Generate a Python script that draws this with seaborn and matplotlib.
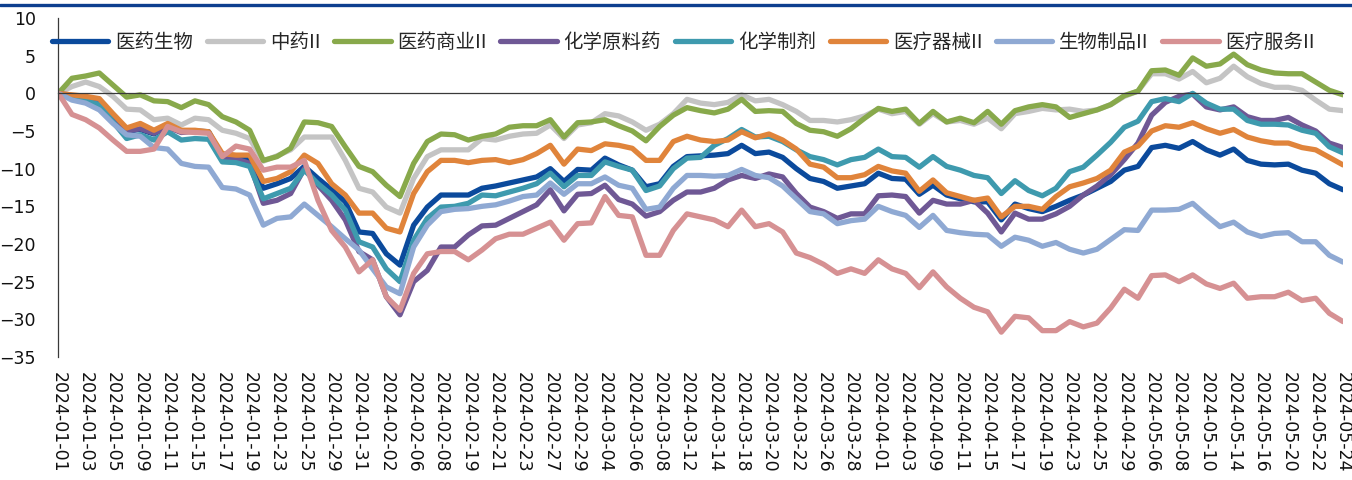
import numpy as np
import pandas as pd
import matplotlib
matplotlib.use('Agg')
import matplotlib.pyplot as plt
from matplotlib.lines import Line2D
import seaborn as sns

# ---------------- data (cumulative change, %) ----------------
dates = [
    '2024-01-01', '2024-01-02', '2024-01-03', '2024-01-04', '2024-01-05', '2024-01-08', '2024-01-09',
    '2024-01-10', '2024-01-11', '2024-01-12', '2024-01-15', '2024-01-16', '2024-01-17', '2024-01-18',
    '2024-01-19', '2024-01-22', '2024-01-23', '2024-01-24', '2024-01-25', '2024-01-26', '2024-01-29',
    '2024-01-30', '2024-01-31',
    '2024-02-01', '2024-02-02', '2024-02-05', '2024-02-06', '2024-02-07', '2024-02-08', '2024-02-09',
    '2024-02-19', '2024-02-20', '2024-02-21', '2024-02-22', '2024-02-23', '2024-02-26', '2024-02-27',
    '2024-02-28', '2024-02-29',
    '2024-03-01', '2024-03-04', '2024-03-05', '2024-03-06', '2024-03-07', '2024-03-08', '2024-03-11',
    '2024-03-12', '2024-03-13', '2024-03-14', '2024-03-15', '2024-03-18', '2024-03-19', '2024-03-20',
    '2024-03-21', '2024-03-22', '2024-03-25', '2024-03-26', '2024-03-27', '2024-03-28', '2024-03-29',
    '2024-04-01', '2024-04-02', '2024-04-03', '2024-04-08', '2024-04-09', '2024-04-10', '2024-04-11',
    '2024-04-12', '2024-04-15', '2024-04-16', '2024-04-17', '2024-04-18', '2024-04-19', '2024-04-22',
    '2024-04-23', '2024-04-24', '2024-04-25', '2024-04-26', '2024-04-29', '2024-04-30',
    '2024-05-06', '2024-05-07', '2024-05-08', '2024-05-09', '2024-05-10', '2024-05-13', '2024-05-14',
    '2024-05-15', '2024-05-16', '2024-05-17', '2024-05-20', '2024-05-21', '2024-05-22', '2024-05-23',
    '2024-05-24',
]

yiyao_shengwu = [
    0, -0.4, -0.8, -1.2, -3.3, -5.0, -4.8, -5.4, -4.4, -5.1,
    -5.0, -5.1, -8.4, -8.7, -8.8, -12.6, -12.0, -11.3, -9.7, -11.3,
    -12.8, -14.4, -18.4, -18.6, -21.3, -22.8, -17.5, -15.1, -13.5, -13.5,
    -13.5, -12.6, -12.3, -11.9, -11.5, -11.1, -10.0, -11.7, -10.1, -10.2,
    -8.6, -9.5, -10.2, -12.4, -12.0, -9.7, -8.4, -8.3, -8.2, -8.0,
    -6.9, -8.0, -7.8, -8.5, -10.0, -11.3, -11.7, -12.6, -12.3, -12.0,
    -10.6, -11.3, -11.4, -13.4, -12.2, -13.5, -14.0, -14.4, -14.4, -16.8,
    -14.7, -15.3, -15.7, -15.0, -14.2, -13.5, -12.6, -11.7, -10.2, -9.7,
    -7.2, -6.9, -7.3, -6.4, -7.5, -8.2, -7.4, -8.9, -9.4, -9.5,
    -9.4, -10.2, -10.6, -12.0, -12.8]

zhongyao = [
    0, 0.9, 1.5, 0.9, -0.4, -2.1, -2.2, -3.5, -3.3, -4.2,
    -3.3, -3.5, -4.9, -5.3, -6.0, -9.0, -8.3, -7.5, -5.8, -5.8,
    -5.8, -8.9, -12.6, -13.1, -15.1, -15.9, -11.3, -8.4, -7.5, -7.5,
    -7.5, -6.0, -6.2, -5.7, -5.4, -5.3, -4.2, -6.0, -4.2, -3.9,
    -2.7, -3.0, -3.8, -4.9, -4.1, -2.7, -0.8, -1.3, -1.5, -1.2,
    -0.2, -1.0, -0.8, -1.5, -2.4, -3.6, -3.6, -3.8, -3.5, -3.0,
    -2.1, -2.7, -2.4, -4.1, -2.7, -3.8, -3.6, -4.1, -3.3, -4.7,
    -2.7, -2.4, -2.0, -2.2, -2.1, -2.4, -2.2, -1.5, -0.4, 0.3,
    2.6, 2.6, 1.9, 2.9, 1.4, 2.0, 3.6, 2.2, 1.3, 0.8,
    0.8, 0.4, -0.9, -2.1, -2.3]

yiyao_shangye = [
    0, 2.0, 2.3, 2.7, 1.1, -0.5, -0.2, -1.0, -1.1, -1.9,
    -1.0, -1.5, -3.1, -3.8, -4.9, -8.9, -8.4, -7.3, -3.8, -3.9,
    -4.4, -7.1, -9.7, -10.4, -12.2, -13.7, -9.3, -6.4, -5.4, -5.5,
    -6.2, -5.7, -5.4, -4.5, -4.3, -4.3, -3.5, -5.8, -3.9, -3.8,
    -3.5, -4.3, -5.0, -6.3, -4.4, -2.9, -1.9, -2.3, -2.6, -2.1,
    -0.8, -2.4, -2.3, -2.4, -4.0, -4.9, -5.1, -5.7, -4.7, -3.3,
    -2.0, -2.4, -2.1, -4.0, -2.4, -3.8, -3.3, -3.9, -2.4, -4.1,
    -2.3, -1.8, -1.5, -1.8, -3.2, -2.7, -2.2, -1.5, -0.3, 0.3,
    3.0, 3.1, 2.4, 4.7, 3.6, 3.9, 5.2, 3.8, 3.1, 2.7,
    2.6, 2.6, 1.5, 0.4, -0.2]

huaxue_yuanliao = [
    0, -0.3, -0.7, -1.1, -3.2, -5.0, -4.7, -5.3, -4.5, -5.2,
    -5.0, -5.2, -8.5, -8.7, -9.3, -14.6, -14.2, -13.3, -10.0, -12.2,
    -14.2, -16.8, -21.0, -22.1, -27.0, -29.4, -25.0, -23.5, -20.4, -20.4,
    -18.8, -17.6, -17.5, -16.6, -15.7, -14.8, -12.8, -15.6, -13.4, -13.3,
    -12.2, -14.1, -14.7, -16.3, -15.7, -14.2, -13.1, -13.1, -12.6, -11.5,
    -10.9, -11.3, -10.7, -11.1, -13.3, -15.1, -15.7, -16.6, -16.0, -16.0,
    -13.6, -13.5, -13.7, -15.9, -14.2, -14.7, -14.7, -14.2, -15.9, -18.4,
    -15.9, -16.7, -16.7, -16.0, -15.0, -13.5, -12.3, -10.8, -8.8, -6.6,
    -2.9, -1.2, -0.4, -0.1, -1.8, -2.2, -1.8, -3.1, -3.6, -3.6,
    -3.2, -4.2, -5.0, -6.6, -7.2]

huaxue_zhiji = [
    0, -0.5, -1.0, -1.5, -3.8, -6.0, -5.5, -6.2, -5.1, -6.2,
    -6.0, -6.1, -9.1, -9.2, -9.7, -14.0, -13.3, -12.6, -10.2, -12.0,
    -13.5, -15.5, -19.7, -20.4, -23.3, -25.0, -19.5, -16.6, -15.1, -15.0,
    -14.6, -13.5, -13.6, -13.1, -12.6, -12.0, -10.6, -12.4, -10.9, -10.9,
    -9.1, -9.7, -10.2, -12.9, -12.3, -10.0, -8.6, -8.5, -6.9, -6.0,
    -4.8, -5.8, -5.7, -6.4, -7.5, -8.4, -8.8, -9.5, -8.8, -8.5,
    -7.4, -8.4, -8.5, -9.8, -8.4, -9.7, -10.2, -10.9, -11.2, -13.3,
    -11.6, -12.9, -13.6, -12.6, -10.4, -9.8, -8.2, -6.5, -4.5, -3.7,
    -1.1, -0.7, -1.1, 0.0, -1.3, -2.1, -2.1, -3.6, -4.1, -4.1,
    -4.2, -4.9, -5.3, -7.1, -7.9]

yiliao_qixie = [
    0, -0.2, -0.4, -0.7, -2.7, -4.6, -4.0, -4.9, -4.0, -4.9,
    -4.9, -5.1, -8.0, -8.2, -8.2, -11.7, -11.3, -10.4, -8.2, -9.3,
    -12.0, -13.5, -15.9, -15.9, -17.9, -18.4, -13.3, -10.4, -8.9, -8.9,
    -9.2, -8.9, -8.8, -9.2, -8.8, -8.0, -6.9, -9.4, -7.4, -7.6,
    -6.7, -6.9, -7.3, -8.9, -8.9, -6.4, -5.7, -6.2, -6.4, -6.2,
    -5.1, -5.9, -5.4, -6.2, -7.4, -9.4, -9.8, -11.2, -11.2, -10.8,
    -9.7, -10.3, -10.6, -13.0, -11.5, -13.2, -13.7, -14.2, -13.9, -16.4,
    -15.0, -15.0, -15.4, -13.7, -12.4, -11.9, -11.3, -10.2, -7.8, -7.0,
    -5.0, -4.3, -4.5, -3.9, -4.7, -5.3, -4.8, -5.8, -6.3, -6.6,
    -6.6, -7.2, -7.5, -8.5, -9.5]

shengwu_zhipin = [
    0, -0.9, -1.3, -2.2, -4.0, -5.5, -5.7, -7.2, -7.4, -9.3,
    -9.7, -9.8, -12.5, -12.7, -13.5, -17.5, -16.6, -16.4, -14.7, -16.2,
    -17.7, -19.3, -20.8, -23.3, -25.7, -26.6, -20.4, -17.5, -15.7, -15.4,
    -15.3, -15.0, -14.8, -14.3, -13.7, -13.5, -11.9, -13.4, -12.0, -12.0,
    -11.1, -12.2, -12.6, -15.4, -15.1, -12.6, -10.9, -10.9, -11.0, -10.9,
    -10.1, -10.9, -11.2, -12.3, -14.0, -15.7, -16.0, -17.3, -16.9, -16.7,
    -15.0, -15.7, -16.2, -17.8, -16.2, -18.2, -18.5, -18.7, -18.8, -20.3,
    -19.1, -19.5, -20.3, -19.8, -20.7, -21.2, -20.7, -19.4, -18.1, -18.2,
    -15.5, -15.5, -15.4, -14.6, -16.2, -17.7, -17.1, -18.4, -19.0, -18.6,
    -18.5, -19.7, -19.7, -21.5, -22.4]

yiliao_fuwu = [
    0, -2.8, -3.5, -4.6, -6.2, -7.7, -7.7, -7.4, -4.4, -5.1,
    -5.2, -5.3, -8.4, -7.0, -7.4, -10.2, -9.8, -9.8, -8.9, -14.2,
    -18.2, -20.4, -23.7, -22.1, -27.0, -28.8, -23.9, -21.3, -21.0, -21.0,
    -22.1, -20.8, -19.3, -18.7, -18.7, -17.9, -17.1, -19.5, -17.3, -17.2,
    -13.7, -16.2, -16.4, -21.5, -21.5, -18.2, -16.0, -16.4, -16.8, -17.7,
    -15.5, -17.7, -17.3, -18.4, -21.2, -21.8, -22.7, -23.9, -23.3, -23.9,
    -22.1, -23.3, -23.9, -25.8, -23.7, -25.7, -27.2, -28.4, -29.0, -31.7,
    -29.6, -29.8, -31.5, -31.5, -30.3, -31.0, -30.5, -28.5, -26.0, -27.2,
    -24.2, -24.1, -25.0, -24.1, -25.3, -25.9, -25.2, -27.2, -27.0, -27.0,
    -26.4, -27.5, -27.2, -29.2, -30.3]

names = ['医药生物', '中药II', '医药商业II', '化学原料药', '化学制剂', '医疗器械II', '生物制品II', '医疗服务II']
series = [yiyao_shengwu, zhongyao, yiyao_shangye, huaxue_yuanliao, huaxue_zhiji,
          yiliao_qixie, shengwu_zhipin, yiliao_fuwu]
colors = ['#0B4A9C', '#C4C4C4', '#88A94B', '#6F5895', '#3E9AAE', '#E0843B', '#8FA9D3', '#D69193']

# long table for seaborn
frames = []
for name, vals in zip(names, series):
    frames.append(pd.DataFrame({'idx': np.arange(len(dates)), 'value': vals, 'sector': name}))
df = pd.concat(frames, ignore_index=True)

# ---------------- plot ----------------
sns.set_style('white')
plt.rcParams['font.family'] = ['DejaVu Sans', 'Noto Sans CJK SC']
plt.rcParams['lines.solid_joinstyle'] = 'round'
plt.rcParams['lines.solid_capstyle'] = 'round'

W, H = 1352, 480
fig = plt.figure(figsize=(W / 100, H / 100), dpi=100)
ax = fig.add_axes([58.3 / W, 1 - 357 / H, (1343 - 58.3) / W, (357 - 18) / H])

sns.lineplot(data=df, x='idx', y='value', hue='sector', hue_order=names,
             palette=colors, linewidth=3.8, ax=ax)

ax.set_xlim(0, len(dates) - 1)
ax.set_ylim(-35, 10)
ax.set_yticks(range(-35, 11, 5))
ax.set_xlabel('')
ax.set_ylabel('')

for s in ['top', 'right']:
    ax.spines[s].set_visible(False)
ax.spines['bottom'].set_position(('data', 0))
for s in ['bottom', 'left']:
    ax.spines[s].set_color('#3a3a3a')
    ax.spines[s].set_linewidth(0.9)

ax.set_xticks(range(len(dates)))
ax.tick_params(axis='x', direction='in', length=3.6, width=0.9, color='#3a3a3a', labelbottom=False)
ax.tick_params(axis='y', direction='in', length=4, width=0.9, color='#3a3a3a', pad=16,
               labelsize=12.5, labelcolor='#111111')

# date labels at the bottom of the plot
sec = ax.secondary_xaxis('bottom')
sec.set_xticks(range(0, len(dates), 2), labels=dates[::2])
sec.tick_params(length=0, pad=11, labelsize=12.5, labelrotation=-90, labelcolor='#111111')
sec.spines['bottom'].set_visible(False)

handles, labels = ax.get_legend_handles_labels()
ax.legend(handles, labels, loc='center left', bbox_to_anchor=(52 / W, 1 - 42 / H),
          bbox_transform=fig.transFigure, ncol=8, frameon=False,
          handlelength=2.9, handletextpad=0.35, columnspacing=0.7,
          borderpad=0, borderaxespad=0,
          prop={'family': 'Noto Sans CJK SC', 'size': 14})

# dark header rule
fig.add_artist(Line2D([0, 1], [1 - 4.5 / H, 1 - 4.5 / H], transform=fig.transFigure,
                      color='#0D3F8F', linewidth=2.4))

fig.savefig('out.png', dpi=100)
